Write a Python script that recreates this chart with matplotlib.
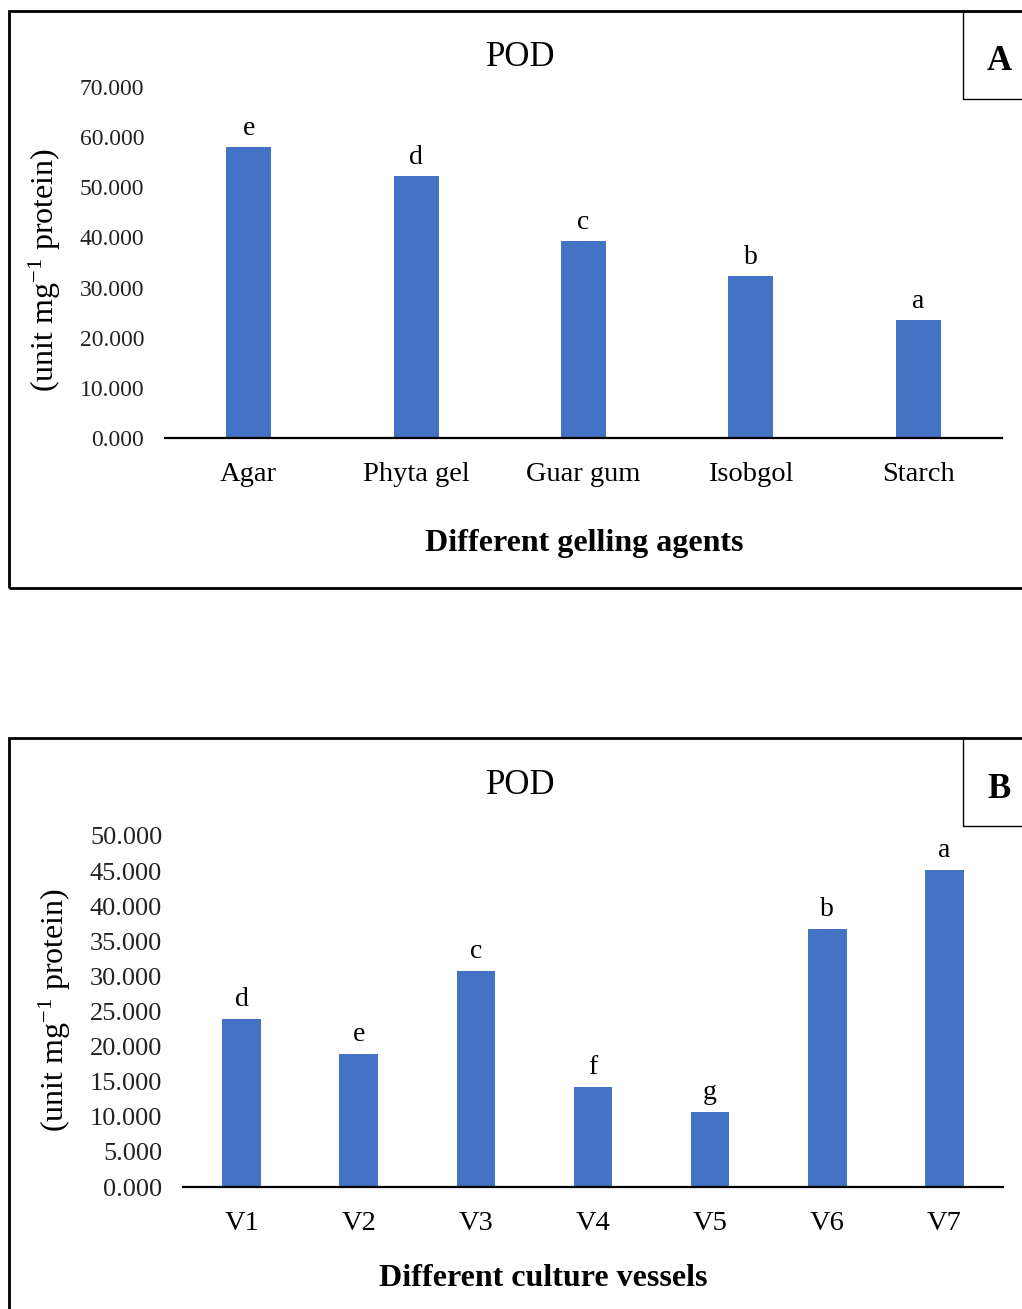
import matplotlib
matplotlib.use('Agg')
import matplotlib.pyplot as plt
from matplotlib.patches import Rectangle
import numpy as np

plt.rcParams['font.family'] = ['Liberation Serif', 'DejaVu Serif']
plt.rcParams['mathtext.fontset'] = 'custom'
plt.rcParams['mathtext.rm'] = 'Liberation Serif'
plt.rcParams['mathtext.it'] = 'Liberation Serif:italic'

# panel A data
agents = ['Agar', 'Phyta gel', 'Guar gum', 'Isobgol', 'Starch']
pod_agents = [58.1, 52.3, 39.3, 32.3, 23.6]
letters_agents = ['e', 'd', 'c', 'b', 'a']
ticks_a = np.arange(0, 71, 10)

# panel B data
vessels = ['V1', 'V2', 'V3', 'V4', 'V5', 'V6', 'V7']
pod_vessels = [23.9, 18.9, 30.8, 14.2, 10.7, 36.8, 45.2]
letters_vessels = ['d', 'e', 'c', 'f', 'g', 'b', 'a']
ticks_b = np.arange(0, 51, 5)

W, H = 1022, 1309
blue = '#4472C4'
fig = plt.figure(figsize=(W / 100, H / 100), dpi=100)


def px_axes(left, top, right, bottom):
    return fig.add_axes([left / W, 1 - bottom / H, (right - left) / W, (bottom - top) / H])


def frame(left, top, right, bottom, lw):
    fig.patches.append(Rectangle((left / W, 1 - bottom / H), (right - left) / W, (bottom - top) / H,
                                 transform=fig.transFigure, fill=False, edgecolor='black',
                                 linewidth=lw, zorder=0))


def panel(ax, cats, vals, letters, ticks, width, fs, letter_off):
    x = np.arange(len(cats))
    ax.bar(x, vals, width, color=blue, zorder=2)
    for xi, v, l in zip(x, vals, letters):
        ax.annotate(l, (xi, v), xytext=(0, letter_off), textcoords='offset pixels',
                    ha='center', va='bottom', fontsize=20)
    ax.set_xlim(-0.5, len(cats) - 0.5)
    ax.set_ylim(ticks[0], ticks[-1])
    ax.set_yticks(ticks)
    ax.set_yticklabels(['{:.3f}'.format(t) for t in ticks], fontsize=fs, color='#222222')
    ax.set_xticks(x)
    ax.set_xticklabels(cats, fontsize=20.5)
    ax.tick_params(axis='y', length=0, pad=15)
    ax.tick_params(axis='x', length=0, pad=17)
    for s in ['top', 'right', 'left']:
        ax.spines[s].set_visible(False)
    ax.spines['bottom'].set_linewidth(1.6)


# panel A
frame(9, 11, 1040, 588, 2)
frame(963, 11, 1040, 99, 1)
fig.text(999 / W, 1 - 62 / H, 'A', fontsize=25, fontweight='bold', ha='center', va='center')
fig.text(521 / W, 1 - 58 / H, 'POD', fontsize=25, ha='center', va='center')
axA = px_axes(165, 87, 1002, 438)
panel(axA, agents, pod_agents, letters_agents, ticks_a, 0.27, 17, 6)
fig.text(584 / W, 1 - 543 / H, 'Different gelling agents', fontsize=23, fontweight='bold',
         ha='center', va='center')
fig.text(45 / W, 1 - 270 / H, '(unit mg$^{\\mathrm{-1}}$ protein)', fontsize=23,
         rotation=90, ha='center', va='center')

# panel B
frame(9, 738, 1040, 1340, 2)
frame(963, 738, 1040, 826, 1)
fig.text(999 / W, 1 - 789 / H, 'B', fontsize=25, fontweight='bold', ha='center', va='center')
fig.text(521 / W, 1 - 785 / H, 'POD', fontsize=25, ha='center', va='center')
axB = px_axes(183, 836, 1003, 1187)
panel(axB, vessels, pod_vessels, letters_vessels, ticks_b, 0.33, 19, 7)
fig.text(543 / W, 1 - 1279 / H, 'Different culture vessels', fontsize=23, fontweight='bold',
         ha='center', va='center')
fig.text(55 / W, 1 - 1010 / H, '(unit mg$^{\\mathrm{-1}}$ protein)', fontsize=23,
         rotation=90, ha='center', va='center')

fig.savefig('out.png', dpi=100)
